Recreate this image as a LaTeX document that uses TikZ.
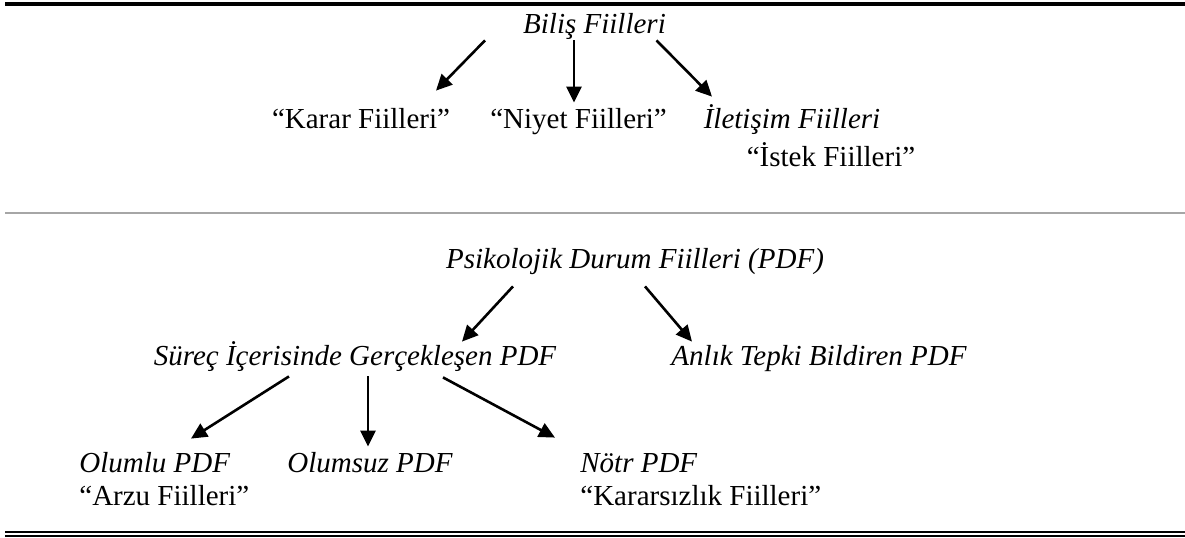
\documentclass[tikz,border=0pt]{standalone}
\usepackage{fontspec}
\setmainfont{Liberation Serif}
\usetikzlibrary{arrows.meta,calc}
\tikzset{
  termnode/.style={font=\fontsize{14.5pt}{17pt}\selectfont\itshape,inner sep=1pt,
    text height=10pt,text depth=3pt},
  quotenode/.style={font=\fontsize{14.5pt}{17pt}\selectfont,inner sep=1pt,
    text height=10pt,text depth=3pt},
  treearrow/.style={-{Triangle[length=8pt,width=7.5pt]},line width=1.3pt},
  rulethick/.style={line width=2pt},
  rulegray/.style={line width=1.1pt,draw=black!35}
}
\begin{document}
\begin{tikzpicture}[x=0.5pt,y=-0.5pt]
  \useasboundingbox (0,0) rectangle (1185,537);
  \draw[rulethick] (5,4) -- (1185,4);
  \draw[rulegray] (5,213) -- (1185,213);
  \draw[line width=1.4pt] (5,532) -- (1185,532);
  \draw[line width=0.7pt] (5,535.8) -- (1185,535.8);
  \node[termnode,anchor=base] (bilis) at (594.5,33) {Biliş Fiilleri};
  \node[quotenode,anchor=base] (karar) at (361,128) {“Karar Fiilleri”};
  \node[quotenode,anchor=base] (niyet) at (578.5,128) {“Niyet Fiilleri”};
  \node[termnode,anchor=base] (iletisim) at (792,128) {İletişim Fiilleri};
  \node[quotenode,anchor=base] (istek) at (831,166) {“İstek Fiilleri”};
  \draw[treearrow] ($(bilis.south)+(-109.5,-1)$) -- ($(karar.north)+(75,-15)$);
  \draw[treearrow] ($(bilis.south)+(-20.5,-1)$) -- ($(niyet.north)+(-4.5,-3)$);
  \draw[treearrow] ($(bilis.south)+(62,-1)$) -- ($(iletisim.north)+(-80,-9)$);
  \node[termnode,anchor=base] (psiko) at (635,268) {Psikolojik Durum Fiilleri (PDF)};
  \node[termnode,anchor=base] (surec) at (355,365) {Süreç İçerisinde Gerçekleşen PDF};
  \node[termnode,anchor=base] (anlik) at (819,365) {Anlık Tepki Bildiren PDF};
  \draw[treearrow] ($(psiko.south)+(-122,10)$) -- ($(surec.north)+(107,-1)$);
  \draw[treearrow] ($(psiko.south)+(10,10)$) -- ($(anlik.north)+(-127,-1)$);
  \node[termnode,anchor=base west] (olumlu) at (77,472) {Olumlu PDF};
  \node[termnode,anchor=base] (olumsuz) at (370,472) {Olumsuz PDF};
  \node[termnode,anchor=base west] (notr) at (578,472) {Nötr PDF};
  \node[quotenode,anchor=base west] (arzu) at (77,505) {“Arzu Fiilleri”};
  \node[quotenode,anchor=base west] (kararsiz) at (578,505) {“Kararsızlık Fiilleri”};
  \draw[treearrow] ($(surec.south)+(-66,3)$) -- ($(olumlu.north west)+(114,-11)$);
  \draw[treearrow] ($(surec.south)+(13,3)$) -- ($(olumsuz.north)+(-2,-3)$);
  \draw[treearrow] ($(surec.south)+(88,4)$) -- ($(notr.north west)+(-23,-12)$);
\end{tikzpicture}
\end{document}
